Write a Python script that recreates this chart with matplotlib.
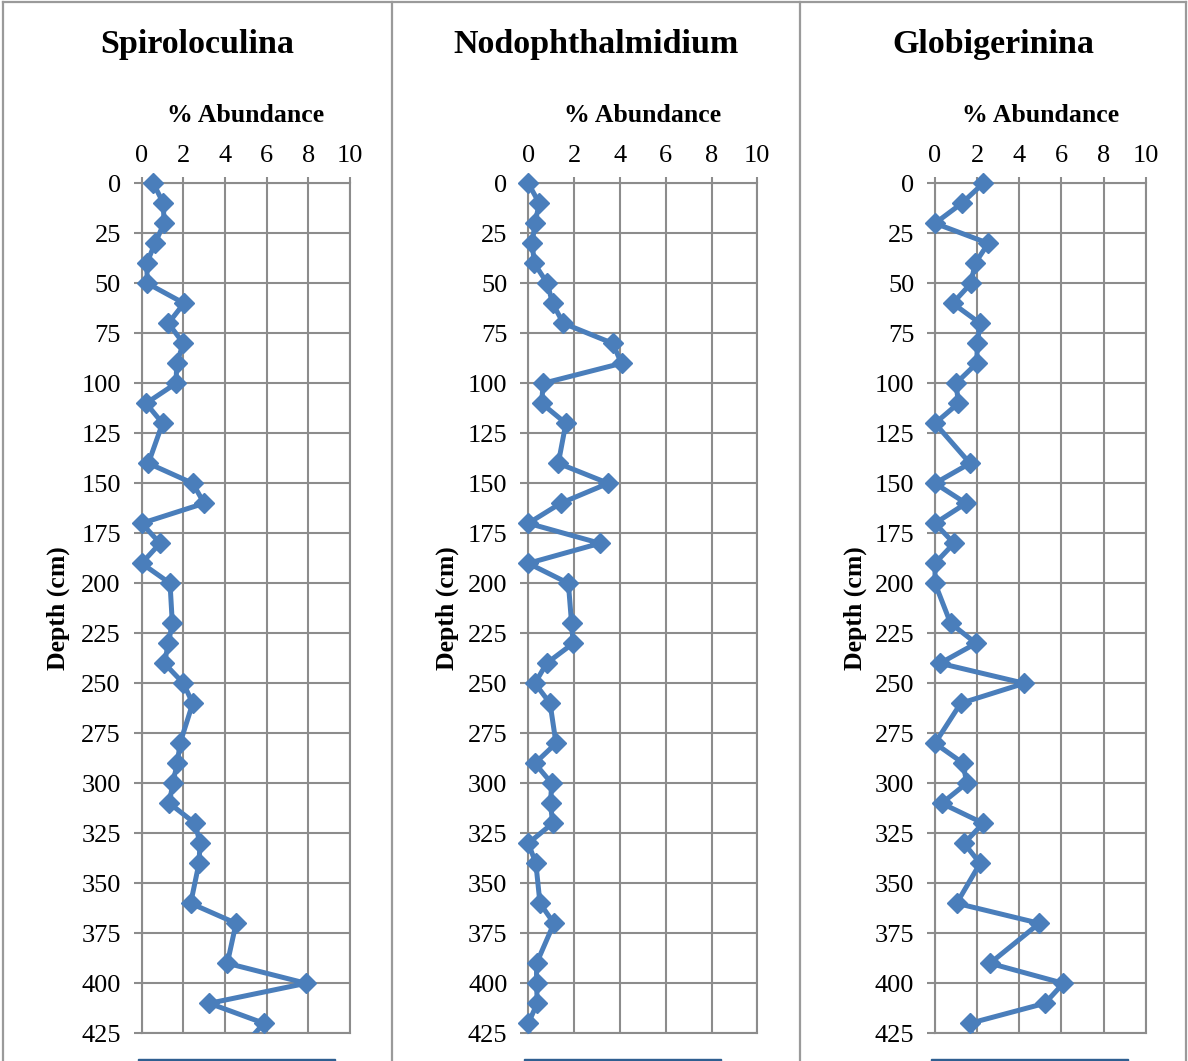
import numpy as np
import matplotlib
matplotlib.use("Agg")
import matplotlib.pyplot as plt
from matplotlib.patches import Rectangle
from matplotlib.lines import Line2D

#---------------------------------------------------------- data
depth = [0, 10, 20, 30, 40, 50, 60, 70, 80, 90, 100, 110, 120,
         140, 150, 160, 170, 180, 190, 200,
         220, 230, 240, 250, 260,
         280, 290, 300, 310, 320, 330, 340,
         360, 370, 390, 400, 410, 420, 430]

spiroloculina = [0.56, 1.04, 1.07, 0.64, 0.24, 0.27, 2.03, 1.28, 2.00, 1.68, 1.65, 0.21, 1.00,
                 0.32, 2.45, 3.00, 0.00, 0.88, 0.00, 1.36,
                 1.47, 1.28, 1.09, 2.00, 2.45,
                 1.84, 1.71, 1.49, 1.33, 2.56, 2.80, 2.75,
                 2.35, 4.53, 4.11, 7.89, 3.25, 5.87, 5.00]

nodophthalmidium = [0.00, 0.48, 0.29, 0.17, 0.26, 0.83, 1.06, 1.53, 3.68, 4.07, 0.65, 0.58, 1.64,
                    1.31, 3.49, 1.41, 0.00, 3.13, 0.00, 1.75,
                    1.89, 1.96, 0.80, 0.29, 0.95,
                    1.21, 0.29, 1.02, 0.97, 1.06, 0.00, 0.33,
                    0.51, 1.12, 0.36, 0.36, 0.39, 0.00, 0.05]

globigerinina = [2.29, 1.27, 0.00, 2.53, 1.90, 1.71, 0.84, 2.14, 2.01, 1.98, 1.00, 1.11, 0.00,
                 1.66, 0.00, 1.47, 0.00, 0.90, 0.00, 0.00,
                 0.74, 1.95, 0.24, 4.24, 1.22,
                 0.00, 1.34, 1.50, 0.32, 2.29, 1.38, 2.14,
                 1.03, 4.95, 2.61, 6.09, 5.22, 1.66, 1.80]

titles = ["Spiroloculina", "Nodophthalmidium", "Globigerinina"]
series = [spiroloculina, nodophthalmidium, globigerinina]
x_ticks = [0, 2, 4, 6, 8, 10]
y_ticks = [0, 25, 50, 75, 100, 125, 150, 175, 200, 225, 250, 275, 300, 325, 350, 375, 400, 425]

#---------------------------------------------------------- layout (pixels)
W, H = 1188, 1061
plt.rcParams['font.family'] = ['Liberation Serif', 'DejaVu Serif']

grid_c = "#8c8c8c"
line_c = "#4a7ebb"

# left, right of plot area; panel box left, right
panels = [(141.7, 350.0, 3, 392),
          (528.3, 757.3, 392, 800),
          (935.0, 1145.7, 800, 1186)]
top_px, bot_px = 183.3, 1033.3

def fx(x):
    return x / W

def fy(y):
    return 1 - y / H

fig = plt.figure(figsize=(W / 100, H / 100), dpi=100)

for (left, right, bl, br), name, vals in zip(panels, titles, series):
    ax = fig.add_axes([fx(left), fy(bot_px), (right - left) / W, (bot_px - top_px) / H])
    d = np.array(depth)
    v = np.array(vals)
    inside = d <= 420
    ax.plot(v[inside], d[inside], color=line_c, lw=3.6, clip_on=False, zorder=3,
            solid_joinstyle="round")
    ax.plot(v[-2:], d[-2:], color=line_c, lw=3.6, zorder=3)
    ax.plot(v[inside], d[inside], ls="none", marker="D", ms=10, color=line_c,
            clip_on=False, zorder=4)
    ax.set_xlim(0, 10)
    ax.set_ylim(425, 0)
    ax.set_xticks(x_ticks)
    ax.set_yticks(y_ticks)
    ax.xaxis.tick_top()
    ax.grid(True, color=grid_c, lw=1.5)
    ax.set_axisbelow(True)
    for s in ax.spines.values():
        s.set_color(grid_c)
        s.set_linewidth(1.5)
    ax.tick_params(axis="x", length=4, width=1.5, color=grid_c, labelsize=19, pad=8)
    ax.tick_params(axis="y", length=6, width=1.5, color=grid_c, labelsize=19, pad=9)

    cx = (left + right) / 2
    fig.text(fx((bl + br) / 2), fy(44), name, ha="center", va="center",
             fontsize=24.5, fontweight="bold")
    fig.text(fx(cx), fy(115), "% Abundance", ha="center", va="center",
             fontsize=18.5, fontweight="bold")
    fig.text(fx(bl + 55), fy((top_px + bot_px) / 2), "Depth (cm)", ha="center", va="center",
             rotation=90, fontsize=18.5, fontweight="bold")
    # cut-off legend strip at the bottom of each panel
    fig.patches.append(Rectangle((fx(left - 4), 0), 197 / W, 2.5 / H, transform=fig.transFigure,
                                 color="#2f5f91", zorder=5))

#---------------------------------------------------------- panel frames
for x in [3, 392, 800, 1186]:
    fig.add_artist(Line2D([fx(x), fx(x)], [0, fy(2)], color="#9a9a9a", lw=1.6))
fig.add_artist(Line2D([fx(3), fx(1186)], [fy(2), fy(2)], color="#9a9a9a", lw=1.6))

fig.savefig("out.png", dpi=100)
